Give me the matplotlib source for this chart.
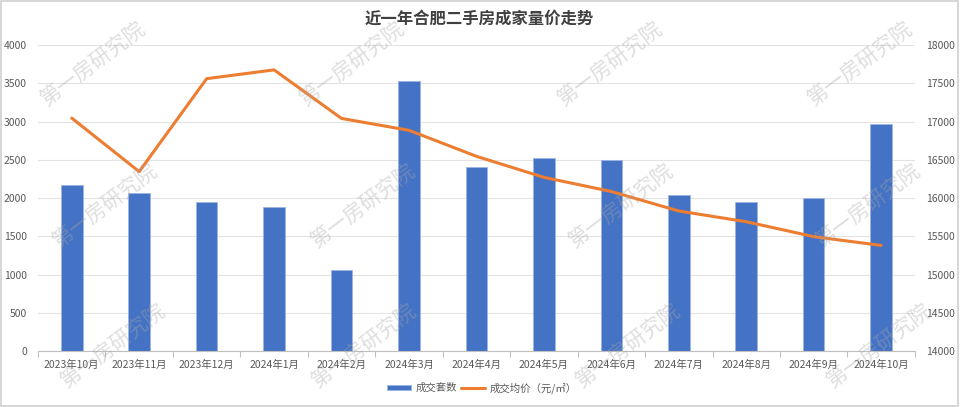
import matplotlib
matplotlib.use('Agg')
import matplotlib.pyplot as plt
import numpy as np
from matplotlib.patches import Rectangle

plt.rcParams['font.family'] = ['Noto Sans CJK SC', 'DejaVu Sans']

months = ['2023年10月', '2023年11月', '2023年12月', '2024年1月', '2024年2月', '2024年3月',
          '2024年4月', '2024年5月', '2024年6月', '2024年7月', '2024年8月', '2024年9月', '2024年10月']
deals = [2170, 2060, 1945, 1880, 1055, 3535, 2410, 2520, 2500, 2040, 1945, 2005, 2970]
prices = [17045, 16345, 17560, 17675, 17040, 16885, 16545, 16270, 16085, 15830, 15690, 15495, 15380]

title = '近一年合肥二手房成家量价走势'
bar_label = '成交套数'
line_label = '成交均价（元/㎡）'
watermark = '第一房研究院'

bar_color = '#4472C4'
line_color = '#ED7D31'
text_color = '#595959'
grid_color = '#e3e3e3'

fig = plt.figure(figsize=(9.6, 4.07), dpi=100)
ax1 = fig.add_axes([0.0396, 0.1376, 0.9134, 0.7518])
ax2 = ax1.twinx()

x = np.arange(len(months))
ax1.bar(x, deals, width=0.32, color=bar_color, edgecolor='#9db5e3', linewidth=0.6,
        label=bar_label, zorder=2)
ax2.plot(x, prices, color=line_color, linewidth=2.2, label=line_label,
         solid_capstyle='round', zorder=3)

ax1.set_xlim(-0.5, len(months) - 0.5)
ax1.set_ylim(0, 4000)
ax1.set_yticks(np.arange(0, 4001, 500))
ax2.set_ylim(14000, 18000)
ax2.set_yticks(np.arange(14000, 18001, 500))

ax1.yaxis.grid(True, color=grid_color, linewidth=0.8, zorder=0)
ax1.set_axisbelow(True)

for ax in (ax1, ax2):
    for s in ax.spines.values():
        s.set_visible(False)
    ax.tick_params(axis='y', length=0, labelsize=7.5, labelcolor=text_color)
ax1.spines['bottom'].set_visible(True)
ax1.spines['bottom'].set_color('#bfbfbf')
ax1.spines['bottom'].set_linewidth(0.8)

ax1.set_xticks(x)
ax1.set_xticklabels(months)
ax1.tick_params(axis='x', which='major', length=0, labelsize=7.5, labelcolor=text_color, pad=6)
ax1.set_xticks(np.arange(-0.5, len(months), 1), minor=True)
ax1.tick_params(axis='x', which='minor', length=4, color='#bfbfbf', width=0.8)
ax1.tick_params(axis='y', pad=8)
ax2.tick_params(axis='y', pad=8)

fig.text(0.499, 0.955, title, ha='center', va='center', fontsize=11.8,
         fontweight='bold', color='#404040')

h1, l1 = ax1.get_legend_handles_labels()
h2, l2 = ax2.get_legend_handles_labels()
fig.legend(h1 + h2, l1 + l2, loc='center', bbox_to_anchor=(0.502, 0.047), ncol=2,
           frameon=False, fontsize=7.5, labelcolor=text_color, handlelength=2.3,
           handleheight=0.5, columnspacing=0.4, handletextpad=0.4)

# watermark grid
wm_x = [[93, 352, 610, 860], [105, 363, 621, 868], [113, 364, 628, 879]]
wm_y = [65, 207, 347]
for row, yy in zip(wm_x, wm_y):
    for xx in row:
        fig.text(xx / 960, 1 - yy / 407, watermark, ha='center', va='center',
                 rotation=37, fontsize=15, fontweight='light', color='#a8a8a8',
                 alpha=0.38, zorder=10)

fig.patches.append(Rectangle((0.001, 0.002), 0.997, 0.996, transform=fig.transFigure,
                             fill=False, edgecolor='#d0d0d0', linewidth=1.2))

fig.savefig('out.png', dpi=100)
